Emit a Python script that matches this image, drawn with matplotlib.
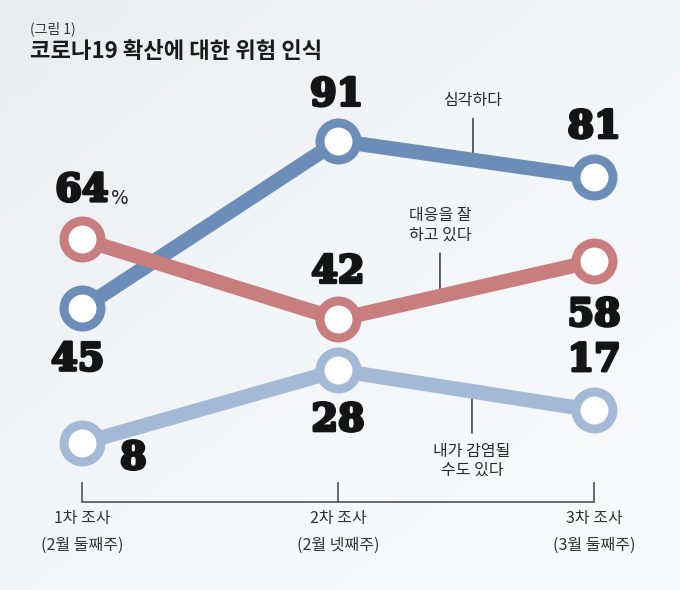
import numpy as np
import matplotlib
matplotlib.use("Agg")
import matplotlib.pyplot as plt
import matplotlib.patheffects as pe
from matplotlib.colors import LinearSegmentedColormap

plt.rcParams['font.family'] = ['Noto Sans CJK KR', 'DejaVu Sans']

# data
surveys = ['1차 조사\n(2월 둘째주)', '2차 조사\n(2월 넷째주)', '3차 조사\n(3월 둘째주)']
serious = [45, 91, 81]          # 심각하다
responding = [64, 42, 58]       # 대응을 잘 하고 있다
infected = [8, 28, 17]          # 내가 감염될 수도 있다

c_serious = '#6d8db9'
c_respond = '#c87e7e'
c_infect = '#a3b9d6'

fig = plt.figure(figsize=(6.8, 5.9), dpi=100)

# soft background gradient
bg = fig.add_axes([0, 0, 1, 1], zorder=-10)
gx, gy = np.meshgrid(np.linspace(0, 1, 200), np.linspace(0, 1, 200))
grad = np.clip(0.55 * gx + 0.6 * gy, 0, 1)
cmap = LinearSegmentedColormap.from_list('bg', ['#eaecee', '#f3f6f9', '#f7f9fb'])
bg.imshow(grad, cmap=cmap, aspect='auto', extent=[0, 1, 0, 1], origin='upper')
bg.axis('off')

ax = fig.add_axes([0.00765, 0.14915, 0.979, 0.66763])
ax.set_facecolor('none')
ax.set_xlim(-0.3, 2.3)
ax.set_ylim(-8.15, 100)

x = np.arange(len(surveys))
mk = dict(marker='o', markersize=26.6, markeredgewidth=6.5, markerfacecolor='white',
          linewidth=10.6, solid_capstyle='butt')
ax.plot(x, infected, color=c_infect, markeredgecolor=c_infect, zorder=3, **mk)
ax.plot(x, serious, color=c_serious, markeredgecolor=c_serious, zorder=4, **mk)
ax.plot(x, responding, color=c_respond, markeredgecolor=c_respond, zorder=5, **mk)

# value labels
num_font = dict(family='DejaVu Serif', fontweight='bold', fontsize=27.5, color='#141414',
                ha='center', va='center', zorder=10,
                path_effects=[pe.withStroke(linewidth=2.2, foreground='#141414')])
offsets = {
    'serious': [(-3, -37), (-1, 33), (0, 36)],
    'responding': [(0, 35), (0, 34), (0, -39)],
    'infected': [(37, -11), (0, -36), (0, 36)],
}
for key, vals in (('serious', serious), ('responding', responding), ('infected', infected)):
    for i, v in enumerate(vals):
        ax.annotate(str(v), xy=(x[i], v), xytext=offsets[key][i],
                    textcoords='offset points', **num_font)
ax.annotate('%', xy=(x[0], responding[0]), xytext=(21, 25), textcoords='offset points',
            fontsize=13.5, color='#222222', ha='left', va='baseline', family='DejaVu Sans')

# series labels with leader lines
def leader(text, xpos, yvals, dy):
    yl = np.interp(xpos, x, yvals)
    ax.annotate(text, xy=(xpos, yl), xytext=(0, dy), textcoords='offset points',
                ha='center', va='center', fontsize=11.5, color='#2a2a2a',
                linespacing=1.15, zorder=1,
                arrowprops=dict(arrowstyle='-', color='#333333', lw=1.1,
                                shrinkA=5, shrinkB=0))

leader('심각하다', 1.527, serious, 43)
leader('대응을 잘\n하고 있다', 1.398, responding, 51)
leader('내가 감염될\n수도 있다', 1.523, infected, -50)

# bracket axis
for s in ('left', 'right', 'top'):
    ax.spines[s].set_visible(False)
ax.spines['bottom'].set_bounds(0, 2)
ax.spines['bottom'].set_color('#444444')
ax.spines['bottom'].set_linewidth(1.1)
ax.set_yticks([])
ax.set_xticks(x)
ax.set_xticklabels(surveys, fontsize=11.5, color='#333333', linespacing=1.75)
ax.tick_params(axis='x', direction='in', length=14.4, width=1.1, color='#444444', pad=6)

# titles
fig.text(0.044, 0.951, '(그림 1)', fontsize=10, color='#333333', va='center', ha='left')
fig.text(0.044, 0.912, '코로나19 확산에 대한 위험 인식', fontsize=16, fontweight='bold',
         color='#1a1a1a', va='center', ha='left')

fig.savefig('out.png', dpi=100)
